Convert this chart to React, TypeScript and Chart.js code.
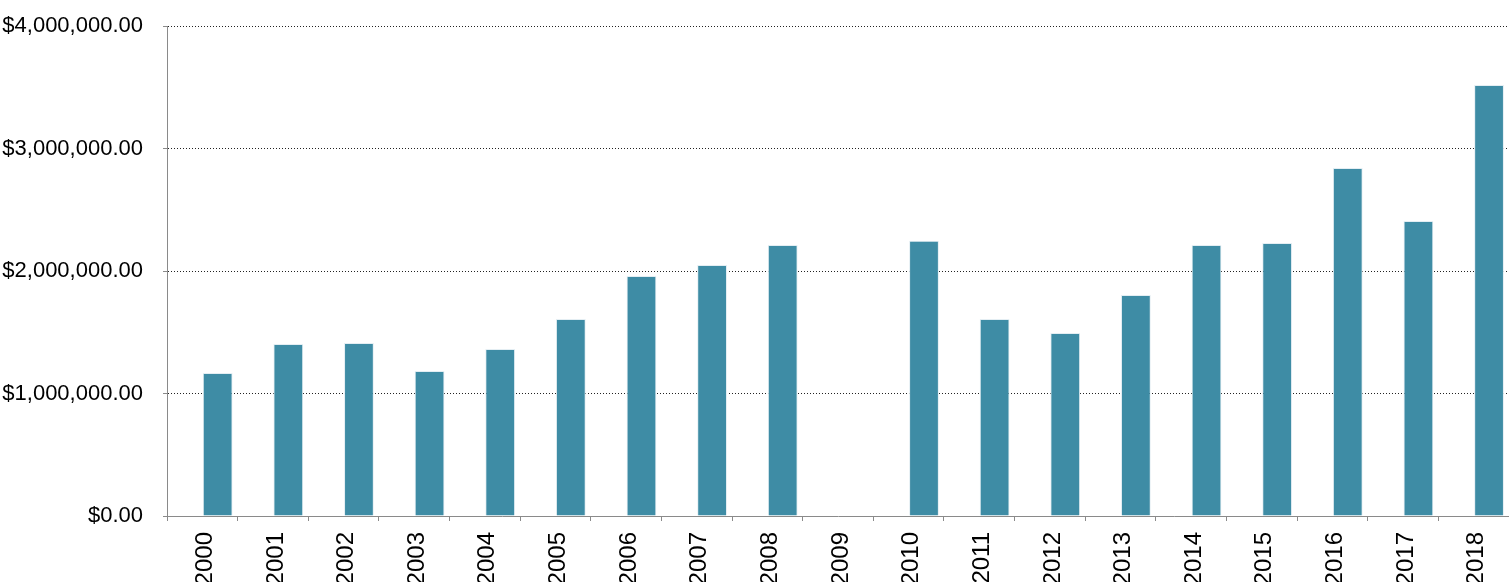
import React, { useEffect, useRef } from "react";
import { Chart, registerables } from "chart.js";

Chart.register(...registerables);

const years = [
  "2000", "2001", "2002", "2003", "2004", "2005", "2006", "2007", "2008", "2009",
  "2010", "2011", "2012", "2013", "2014", "2015", "2016", "2017", "2018",
];

const amounts = [
  1167000, 1404000, 1412000, 1184000, 1363000, 1608000, 1959000, 2049000, 2212000, 0,
  2247000, 1608000, 1494000, 1804000, 2212000, 2229000, 2841000, 2408000, 3518000,
];

// empty spacer series: shifts the visible bars to the right half of each category, as in the reference
const spacer = years.map(() => null);

const yTicks = [0, 1000000, 2000000, 3000000, 4000000];

const FONT = "Helvetica, Arial, 'Liberation Sans', sans-serif";

export default function App() {
  const ref = useRef<HTMLCanvasElement | null>(null);

  useEffect(() => {
    document.body.style.margin = "0";
    document.body.style.overflow = "hidden";
    const canvas = ref.current;
    if (!canvas) return;
    const chart = new Chart(canvas, {
      type: "bar",
      data: {
        labels: years,
        datasets: [
          {
            label: "spacer",
            data: spacer as any,
            backgroundColor: "rgba(0,0,0,0)",
            borderWidth: 0,
            categoryPercentage: 0.87,
            barPercentage: 0.97,
          },
          {
            label: "Amount",
            data: amounts,
            backgroundColor: "#3e8ca5",
            borderColor: "#e4eef3",
            borderWidth: 1,
            categoryPercentage: 0.87,
            barPercentage: 0.97,
          },
        ],
      },
      options: {
        animation: false,
        responsive: false,
        maintainAspectRatio: false,
        layout: { padding: { top: 26, left: 0, right: 0, bottom: 0 } },
        plugins: {
          legend: { display: false },
          tooltip: { enabled: false },
        },
        scales: {
          x: {
            grid: {
              drawOnChartArea: false,
              drawTicks: true,
              tickLength: 5,
              tickColor: "#8a8a8a",
              offset: true,
            },
            border: { display: true, color: "#8a8a8a", width: 1 },
            ticks: {
              autoSkip: false,
              minRotation: 90,
              maxRotation: 90,
              padding: 11,
              labelOffset: 3,
              color: "#000",
              font: { family: FONT, size: 24 },
            },
            afterFit: (s: any) => {
              s.height = 66;
              s.paddingLeft = 0;
              s.paddingRight = 0;
            },
          },
          y: {
            min: 0,
            max: 4000000,
            afterBuildTicks: (s: any) => {
              s.ticks = yTicks.map((v) => ({ value: v }));
            },
            grid: {
              color: "#222",
              lineWidth: 1,
              tickLength: 4,
              tickColor: "#8a8a8a",
              tickBorderDash: [],
            } as any,
            border: { display: true, color: "#8a8a8a", width: 1, dash: [1, 2] },
            ticks: {
              padding: 20,
              color: "#000",
              font: { family: FONT, size: 22 },
              callback: (v: any) =>
                "$" +
                Number(v).toLocaleString("en-US", {
                  minimumFractionDigits: 2,
                  maximumFractionDigits: 2,
                }),
            },
            afterFit: (s: any) => {
              s.width = 167;
              s.paddingTop = 0;
              s.paddingBottom = 0;
            },
          },
        },
      },
    });
    return () => chart.destroy();
  }, []);

  return (
    <div style={{ width: 1509, height: 582 }}>
      <canvas ref={ref} width={1509} height={582} style={{ display: "block", width: 1509, height: 582 }} />
    </div>
  );
}
